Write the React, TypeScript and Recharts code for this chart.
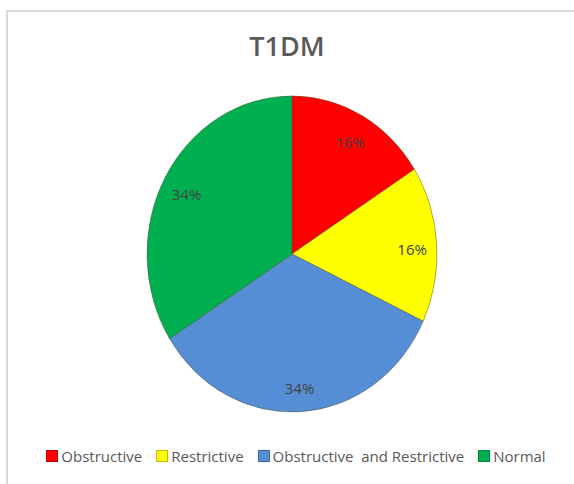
import { PieChart, Pie, Cell, Sector, Legend } from 'recharts';

const categories = ['Obstructive', 'Restrictive', 'Obstructive and Restrictive', 'Normal'];
const shares = [16, 16, 34, 34];
const colors = ['#FF0000', '#FFFF00', '#558ED5', '#00B050'];

const data = categories.map((name, i) => ({ name, value: shares[i] }));

const CX = 292;
const CY = 254;
const R = 145;
const SY = 1.09; // the original pie is a bit taller than wide

const RADIAN = Math.PI / 180;
const FONT = "'Open Sans', sans-serif";

function StretchedSector(props: any) {
  const { cx, cy } = props;
  return (
    <g transform={`translate(${cx} ${cy}) scale(1 ${SY}) translate(${-cx} ${-cy})`}>
      <Sector {...props} stroke="#4a4a2a" strokeWidth={0.8} strokeOpacity={0.55} />
    </g>
  );
}

function renderLabel(props: any) {
  const { cx, cy, midAngle, outerRadius, percent } = props;
  const r = outerRadius * 0.83;
  const x = cx + r * Math.cos(-midAngle * RADIAN);
  const y = cy + 3 + r * SY * Math.sin(-midAngle * RADIAN);
  return (
    <text
      x={x}
      y={y}
      fill="#404040"
      fontSize={15}
      fontFamily={FONT}
      textAnchor="middle"
      dominantBaseline="central"
    >
      {`${Math.round(percent * 100)}%`}
    </text>
  );
}

function LegendRow() {
  return (
    <div
      style={{
        display: 'flex',
        alignItems: 'center',
        justifyContent: 'center',
        paddingLeft: 18,
        fontFamily: FONT,
        fontSize: 15,
        color: '#595959',
        whiteSpace: 'pre',
      }}
    >
      {categories.map((name, i) => (
        <span key={name} style={{ display: 'flex', alignItems: 'center', marginRight: i < categories.length - 1 ? 14 : 0 }}>
          <span
            style={{
              display: 'inline-block',
              width: 10,
              height: 10,
              background: colors[i],
              border: '1px solid rgba(0,0,0,0.25)',
              marginRight: 3,
            }}
          />
          {name.replace(' and ', '  and ')}
        </span>
      ))}
    </div>
  );
}

export default function App() {
  return (
    <div style={{ position: 'relative', width: 574, height: 484, background: '#fff', overflow: 'hidden' }}>
      <style>{'body { margin: 0; }'}</style>
      <div
        style={{
          position: 'absolute',
          left: 6,
          top: 10,
          width: 600,
          height: 500,
          borderTop: '2px solid #d9d9d9',
          borderLeft: '2px solid #d9d9d9',
          boxSizing: 'border-box',
        }}
      />
      <div
        style={{
          position: 'absolute',
          left: 0,
          width: 574,
          top: 28,
          textAlign: 'center',
          fontFamily: FONT,
          fontSize: 27,
          fontWeight: 600,
          color: '#595959',
          lineHeight: '36px',
        }}
      >
        T1DM
      </div>
      <div style={{ position: 'absolute', left: 0, top: 0 }}>
        <PieChart width={574} height={484} margin={{ top: 0, right: 0, bottom: 0, left: 0 }}>
          <Pie
            data={data}
            dataKey="value"
            nameKey="name"
            cx={CX}
            cy={CY}
            outerRadius={R}
            startAngle={90}
            endAngle={-270}
            label={renderLabel}
            labelLine={false}
            shape={StretchedSector}
            isAnimationActive={false}
          >
            {data.map((d, i) => (
              <Cell key={d.name} fill={colors[i]} />
            ))}
          </Pie>
          <Legend
            content={() => <LegendRow />}
            wrapperStyle={{ top: 446, left: 0, width: 574, height: 22 }}
          />
        </PieChart>
      </div>
    </div>
  );
}
